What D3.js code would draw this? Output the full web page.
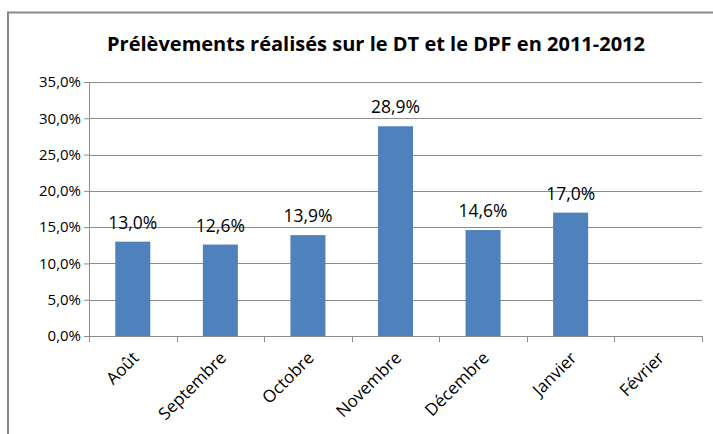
<!DOCTYPE html>
<html>
<head>
<meta charset="utf-8">
<script src="https://d3js.org/d3.v7.min.js"></script>
<style>
  body { margin: 0; background: #fff; }
  svg text { font-family: "Open Sans", sans-serif; fill: #000; }
  .grid line { stroke: #8c8c8c; stroke-width: 1; }
  .axis path, .axis line { stroke: #8c8c8c; }
</style>
</head>
<body>
<div id="chart"></div>
<script>
var title = "Prélèvements réalisés sur le DT et le DPF en 2011-2012";
var months = ["Août", "Septembre", "Octobre", "Novembre", "Décembre", "Janvier", "Février"];
var values = [13.0, 12.6, 13.9, 28.9, 14.6, 17.0, null];
var yTicks = [0, 5, 10, 15, 20, 25, 30, 35];

var W = 713, H = 434;
var margin = { top: 82, left: 89, right: 11, bottom: 98 };
var width = W - margin.left - margin.right,
    height = H - margin.top - margin.bottom;

var svg = d3.select("#chart").append("svg").attr("width", W).attr("height", H);

// outer chart frame
svg.append("rect")
  .attr("x", 8).attr("y", 12.5)
  .attr("width", W + 20).attr("height", H + 20)
  .attr("fill", "none").attr("stroke", "#878787").attr("stroke-width", 2);

svg.append("text")
  .attr("x", 376).attr("y", 51)
  .attr("text-anchor", "middle")
  .style("font-size", "20px").style("font-weight", "bold")
  .attr("textLength", 538).attr("lengthAdjust", "spacingAndGlyphs")
  .text(title);

var x = d3.scaleBand().domain(months).range([0, width]).paddingInner(0.6).paddingOuter(0.3);
var y = d3.scaleLinear().domain([0, 35]).range([height, 0]);

var g = svg.append("g").attr("transform", "translate(" + margin.left + "," + margin.top + ")");

g.append("g").attr("class", "grid")
  .selectAll("line").data(yTicks.slice(1)).enter().append("line")
  .attr("x1", 0).attr("x2", width)
  .attr("y1", function(d) { return Math.round(y(d)) + 0.5; })
  .attr("y2", function(d) { return Math.round(y(d)) + 0.5; });

var yAxis = g.append("g").attr("class", "axis")
  .call(d3.axisLeft(y).tickValues(yTicks).tickSize(5).tickSizeOuter(0)
    .tickFormat(function(d) { return d.toFixed(1).replace(".", ",") + "%"; }));
yAxis.selectAll("text").style("font-size", "15px").attr("x", -8);

// x axis with ticks at band boundaries
var step = width / months.length;
var xg = g.append("g").attr("class", "axis").attr("transform", "translate(0," + height + ")");
xg.append("line").attr("x1", 0).attr("x2", width).attr("y1", 0.5).attr("y2", 0.5);
xg.selectAll(".tk").data(d3.range(months.length + 1)).enter().append("line")
  .attr("x1", function(i) { return Math.round(i * step) + 0.5; })
  .attr("x2", function(i) { return Math.round(i * step) + 0.5; })
  .attr("y1", 0).attr("y2", 6);
xg.selectAll(".lbl").data(months).enter().append("text")
  .attr("text-anchor", "end")
  .style("font-size", "17px")
  .attr("transform", function(d) {
    return "translate(" + (x(d) + x.bandwidth() / 2 + 7) + ",23) rotate(-45)";
  })
  .text(function(d) { return d; });

var data = months.map(function(m, i) { return { m: m, v: values[i] }; })
  .filter(function(d) { return d.v != null; });

g.selectAll(".bar").data(data).enter().append("rect")
  .attr("class", "bar")
  .attr("x", function(d) { return x(d.m); })
  .attr("y", function(d) { return y(d.v); })
  .attr("width", x.bandwidth())
  .attr("height", function(d) { return height - y(d.v); })
  .attr("fill", "#4f81bd");

g.selectAll(".val").data(data).enter().append("text")
  .attr("text-anchor", "middle")
  .style("font-size", "17.5px")
  .attr("x", function(d) { return x(d.m) + x.bandwidth() / 2; })
  .attr("y", function(d) { return y(d.v) - 13; })
  .text(function(d) { return d.v.toFixed(1).replace(".", ",") + "%"; });
</script>
</body>
</html>
